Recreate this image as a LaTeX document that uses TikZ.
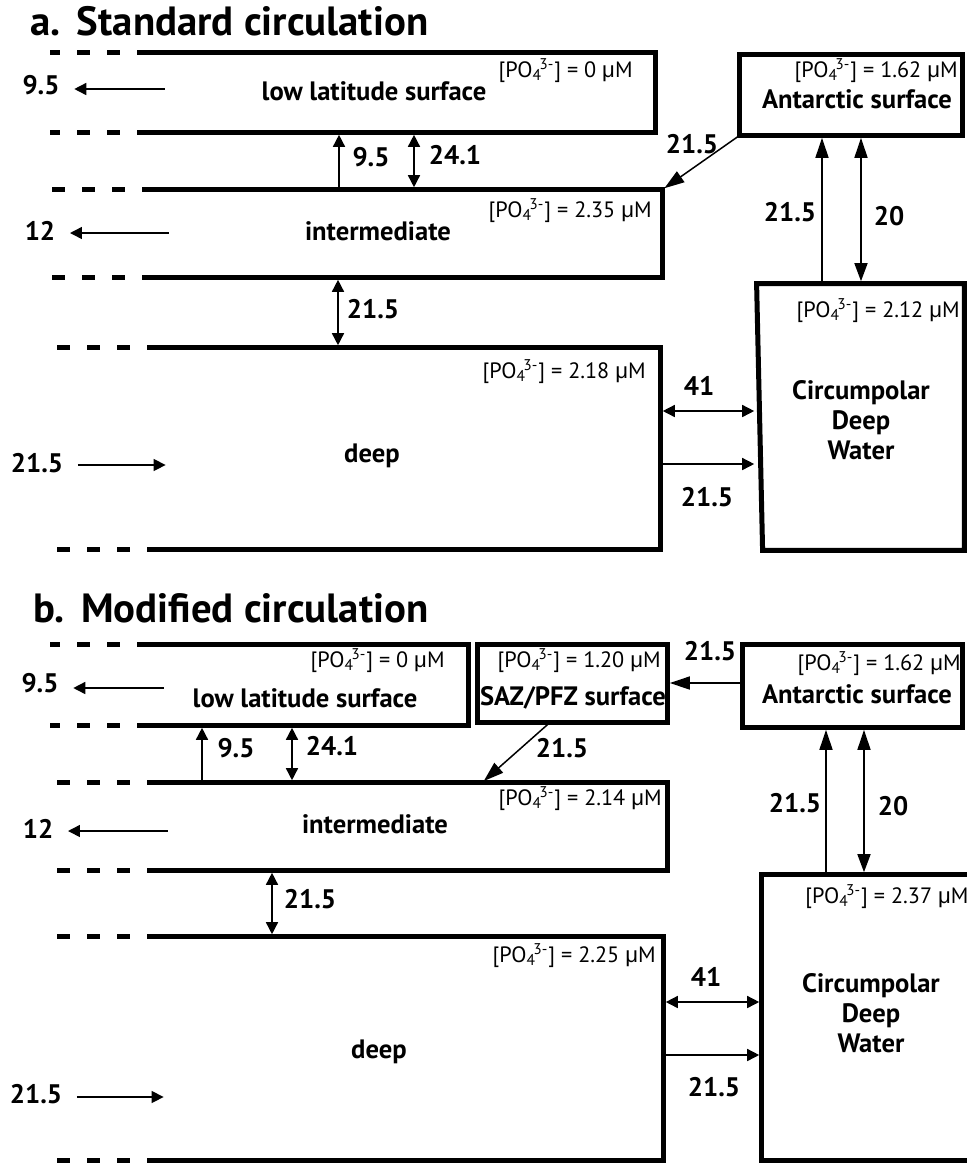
\documentclass[tikz,border=0pt]{standalone}
\usepackage{fontspec}
\setmainfont{PT Sans}
\newfontfamily\mufont{Liberation Sans}
\usetikzlibrary{arrows.meta,positioning,fit}
\newcommand{\phos}[1]{[PO\textsubscript{4}\kern-0.12em\textsuperscript{3-}] = #1 {\mufont μ}M}

\begin{document}
\begin{tikzpicture}[x=0.5pt, y=-0.5pt,
  wall/.style={line width=2.5pt},
  shore/.style={line width=2.5pt, dash pattern=on 6.5pt off 8.5pt},
  flow/.style={line width=0.75pt, shorten >=1.2pt, shorten <=1.2pt,
    -{Triangle[length=6pt,width=6pt]}},
  mix/.style={line width=0.75pt, shorten >=1.2pt, shorten <=1.2pt,
    {Triangle[length=6pt,width=6pt]}-{Triangle[length=6pt,width=6pt]}},
  reach/.style={line width=0.75pt, shorten >=1.2pt, shorten <=1.2pt,
    -{Triangle[length=10pt,width=6.5pt]}},
  reachmix/.style={line width=0.75pt, shorten >=1.2pt, shorten <=1.2pt,
    {Triangle[length=9pt,width=6.5pt]}-{Triangle[length=10pt,width=6.5pt]}},
  res/.style={fit={#1}, inner sep=0pt},
  heading/.style={anchor=base west, inner sep=0pt,
    font=\fontsize{20.4}{22}\selectfont\bfseries},
  zone/.style={anchor=base, inner sep=0pt,
    font=\fontsize{13.3}{15}\selectfont\bfseries},
  num/.style={anchor=base, inner sep=0pt,
    font=\fontsize{13.4}{15}\selectfont\bfseries},
  side/.style={num, inner xsep=6pt},
  conc/.style={anchor=base east, inner sep=0pt,
    font=\fontsize{11.1}{12}\selectfont}]
\useasboundingbox (0,0) rectangle (966,1164);
\coordinate (rim) at (50,0);

% a. standard circulation
\node[heading] (ta) at (30,35) {a.\hspace{0.4em}Standard circulation};
\node[res={(150,53) (655,132)}] (lsa) {};
\node[res={(155,190) (662,277)}] (ima) {};
\node[res={(160,348) (660,549)}] (dpa) {};
\node[res={(740,55) (962,135)}] (ana) {};
\node[res={(757,284) (964,550)}] (cda) {};

% b. modified circulation
\node[heading] (tb) at (33,622) {b.\hspace{0.4em}Modified circulation};
\node[res={(150,645) (468,725)}] (lsb) {};
\node[res={(478,645) (667,722)}] (szb) {};
\node[res={(743,645) (962,727)}] (anb) {};
\node[res={(160,783) (667,870)}] (imb) {};
\node[res={(160,937) (663,1160)}] (dpb) {};
\node[res={(762,875) (972,1160)}] (cdb) {};

% open boxes run off to the left
\foreach \b in {lsa,ima,dpa,lsb,imb,dpb} {
  \draw[wall] (\b.north west) -- (\b.north east) -- (\b.south east)
    -- (\b.south west);
  \draw[shore] (\b.north west) -- (rim |- \b.north west);
  \draw[shore] (\b.south west) -- (rim |- \b.south west);
}
\foreach \b in {ana,szb,anb,cdb}
  \draw[wall] (\b.south west) rectangle (\b.north east);
\draw[wall] (cda.north west) -- (cda.north east) -- (cda.south east)
  -- ([xshift=3pt]cda.south west) -- cycle;

% names and concentrations, panel a
\node[zone] (lsa-t) at (374,100) {low latitude surface};
\node[zone] (ima-t) at (378,240) {intermediate};
\node[zone] (dpa-t) at (372,462) {deep};
\node[zone] (ana-t) at (857,108) {Antarctic surface};
\node[zone, anchor=north, align=center] (cda-t) at (861,380)
  {Circumpolar\\Deep\\Water};
\node[conc] (lsa-c) at (633,77) {\phos{0}};
\node[conc] (ima-c) at (652,217) {\phos{2.35}};
\node[conc] (dpa-c) at (646,378) {\phos{2.18}};
\node[conc] (ana-c) at (958,77) {\phos{1.62}};
\node[conc] (cda-c) at (960,317) {\phos{2.12}};

% fluxes, panel a
\node[side] (a1) at (41,94) {9.5};
\node[side] (a2) at (40,240) {12};
\node[side] (a3) at (37,472) {21.5};
\node[num] (a4) at (371,166) {9.5};
\node[num] (a5) at (455,164) {24.1};
\node[num] (a6) at (692,153) {21.5};
\node[num] (a7) at (790,221) {21.5};
\node[num] (a8) at (889,225) {20};
\node[num] (a9) at (373,318) {21.5};
\node[num] (a10) at (699,395) {41};
\node[num] (a11) at (707,506) {21.5};

\coordinate (outA1) at (167,89);
\coordinate (outA2) at (171,233);
\coordinate (inA) at (168,465);
\coordinate (upA) at (339,0);
\coordinate (mixA) at (414,0);
\coordinate (dmixA) at (338,0);
\coordinate (riseA) at (822,0);
\coordinate (stirA) at (861,0);
\coordinate (cmixA) at (0,411);
\coordinate (cflowA) at (0,464);
\draw[flow] (outA1) -- (outA1 -| a1.east);
\draw[flow] (outA2) -- (outA2 -| a2.east);
\draw[flow] (inA -| a3.east) -- (inA);
\draw[flow] (ima.north -| upA) -- (lsa.south -| upA);
\draw[mix] (ima.north -| mixA) -- (lsa.south -| mixA);
\draw[mix] (dpa.north -| dmixA) -- (ima.south -| dmixA);
\draw[reach] (ana.south west) -- (ima.north east);
\draw[reach] (cda.north -| riseA) -- (ana.south -| riseA);
\draw[reachmix] (cda.north -| stirA) -- (ana.south -| stirA);
\draw[mix] (dpa.east |- cmixA) -- (cda.west |- cmixA);
\draw[flow] (dpa.east |- cflowA) -- (cda.west |- cflowA);

% names and concentrations, panel b
\node[zone] (lsb-t) at (305,707) {low latitude surface};
\node[zone] (szb-t) at (573,705) {SAZ/PFZ surface};
\node[zone] (anb-t) at (857,703) {Antarctic surface};
\node[zone] (imb-t) at (375,833) {intermediate};
\node[zone] (dpb-t) at (379,1058) {deep};
\node[zone, anchor=north, align=center] (cdb-t) at (871,973)
  {Circumpolar\\Deep\\Water};
\node[conc] (lsb-c) at (445,667) {\phos{0}};
\node[conc] (szb-c) at (661,667) {\phos{1.20}};
\node[conc] (anb-c) at (961,670) {\phos{1.62}};
\node[conc] (imb-c) at (662,805) {\phos{2.14}};
\node[conc] (dpb-c) at (656,962) {\phos{2.25}};
\node[conc, anchor=base west] (cdb-c) at (805,903) {\phos{2.37}};

% fluxes, panel b
\node[side] (b1) at (40,692) {9.5};
\node[side] (b2) at (38,838) {12};
\node[side] (b3) at (36,1103) {21.5};
\node[num] (b4) at (236,757) {9.5};
\node[num] (b5) at (332,755) {24.1};
\node[num] (b6) at (562,757) {21.5};
\node[num] (b7) at (710,660) {21.5};
\node[num] (b8) at (795,812) {21.5};
\node[num] (b9) at (893,815) {20};
\node[num] (b10) at (310,908) {21.5};
\node[num] (b11) at (706,986) {41};
\node[num] (b12) at (714,1096) {21.5};

\coordinate (outB1) at (166,688);
\coordinate (outB2) at (170,831);
\coordinate (inB) at (166,1097);
\coordinate (upB) at (202,0);
\coordinate (mixB) at (292,0);
\coordinate (dmixB) at (272,0);
\coordinate (sinkB) at (550,0);
\coordinate (fallB) at (482,0);
\coordinate (driftB) at (0,683);
\coordinate (riseB) at (826,0);
\coordinate (stirB) at (864,0);
\coordinate (cmixB) at (0,1002);
\coordinate (cflowB) at (0,1055);
\draw[flow] (outB1) -- (outB1 -| b1.east);
\draw[flow] (outB2) -- (outB2 -| b2.east);
\draw[flow] (inB -| b3.east) -- (inB);
\draw[flow] (imb.north -| upB) -- (lsb.south -| upB);
\draw[mix] (imb.north -| mixB) -- (lsb.south -| mixB);
\draw[mix] (dpb.north -| dmixB) -- (imb.south -| dmixB);
\draw[reach] (szb.south -| sinkB) -- (imb.north -| fallB);
\draw[reach] (anb.west |- driftB) -- (szb.east |- driftB);
\draw[reach] (cdb.north -| riseB) -- (anb.south -| riseB);
\draw[reachmix] (cdb.north -| stirB) -- (anb.south -| stirB);
\draw[mix] (dpb.east |- cmixB) -- (cdb.west |- cmixB);
\draw[flow] (dpb.east |- cflowB) -- (cdb.west |- cflowB);
\end{tikzpicture}
\end{document}
